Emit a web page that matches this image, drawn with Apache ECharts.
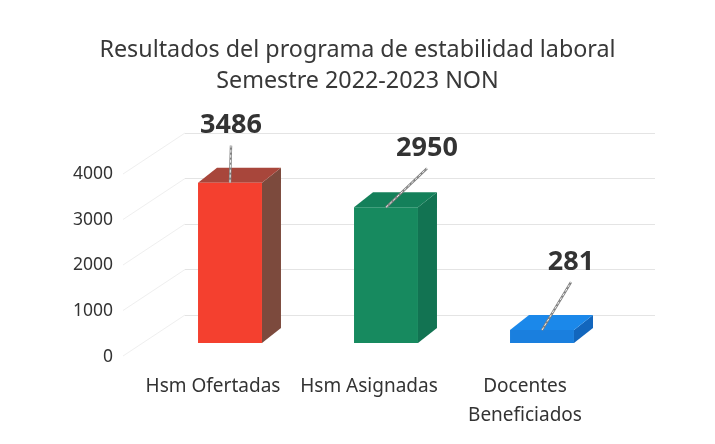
<!DOCTYPE html>
<html>
<head>
<meta charset="utf-8">
<script src="https://cdn.jsdelivr.net/npm/echarts@6/dist/echarts.min.js"></script>
<style>
html,body{margin:0;padding:0;background:#ffffff;}
#chart{width:715px;height:444px;}
</style>
</head>
<body>
<div id="chart"></div>
<script>
// ---- data ----
const titleLines = ['Resultados del programa de estabilidad laboral', 'Semestre 2022-2023 NON'];
const categories = ['Hsm Ofertadas', 'Hsm Asignadas', 'Docentes\nBeneficiados'];
const values = [3486, 2950, 281];
const yTicks = [0, 1000, 2000, 3000, 4000];

// ---- styles ----
const FONT = 'Noto Sans';
const faceColors = [
  { front: '#f4402f', side: '#7c4a3d', top: '#a8463b' },
  { front: '#178a5f', side: '#127352', top: '#14805a' },
  { front: '#1a7fde', side: '#1266bd', top: '#1b88ea' }
];
const labelOffsets = [[1, -57], [41, -59], [29, -68]];
const DEPTH_X = 19, DEPTH_Y = -15;

function renderBar(params, api) {
  const i = api.value(0), v = api.value(1);
  const base = api.coord([i, 0]);
  const top = api.coord([i, v]);
  const bw = api.size([1, 0])[0] * 0.41;
  const x0 = base[0] - bw / 2, x1 = base[0] + bw / 2;
  const c = faceColors[i];
  const off = labelOffsets[i];
  const lx = base[0] + off[0], ly = top[1] + off[1];
  return {
    type: 'group',
    children: [
      { type: 'polygon', shape: { points: [[x1, top[1]], [x1 + DEPTH_X, top[1] + DEPTH_Y], [x1 + DEPTH_X, base[1] + DEPTH_Y], [x1, base[1]]] }, style: { fill: c.side } },
      { type: 'polygon', shape: { points: [[x0, top[1]], [x0 + DEPTH_X, top[1] + DEPTH_Y], [x1 + DEPTH_X, top[1] + DEPTH_Y], [x1, top[1]]] }, style: { fill: c.top } },
      { type: 'rect', shape: { x: x0, y: top[1], width: bw, height: base[1] - top[1] }, style: { fill: c.front } },
      { type: 'line', shape: { x1: base[0], y1: top[1], x2: lx, y2: ly + 20 }, style: { stroke: '#808080', lineWidth: 2.4 } },
      { type: 'line', shape: { x1: base[0], y1: top[1], x2: lx, y2: ly + 20 }, style: { stroke: '#f2f2f2', lineWidth: 1, lineDash: [3, 2] } },
      { type: 'text', style: { x: lx, y: ly, text: String(v), align: 'center', verticalAlign: 'middle', fontFamily: FONT, fontWeight: 'bold', fontSize: 27, fill: '#333333' } }
    ]
  };
}

function renderSideWall(params, api) {
  const p = api.coord([0, api.value(0)]);
  return { type: 'line', shape: { x1: p[0] - 62, y1: p[1] + 41, x2: p[0], y2: p[1] }, style: { stroke: '#efefef', lineWidth: 1 } };
}

const chart = echarts.init(document.getElementById('chart'), null, { renderer: 'canvas' });
chart.setOption({
  backgroundColor: '#ffffff',
  animation: false,
  title: {
    text: titleLines.join('\n'),
    left: 'center', top: 30,
    textStyle: { fontFamily: FONT, fontWeight: 'normal', fontSize: 23.3, color: '#383838', lineHeight: 31 }
  },
  grid: [
    { left: 152, right: 95, top: 159, bottom: 101 },   // bars (front plane)
    { left: 135, right: 112, top: 174, bottom: 87 },   // axis labels (front edge)
    { left: 185, right: 60, top: 133, bottom: 129 }    // back wall
  ],
  xAxis: [
    { type: 'category', gridIndex: 0, data: categories, show: false },
    { type: 'category', gridIndex: 1, data: categories, axisLine: { show: false }, axisTick: { show: false },
      axisLabel: { interval: 0, margin: 15, fontFamily: FONT, fontSize: 19, color: '#333333', lineHeight: 29 } },
    { type: 'value', gridIndex: 2, min: 0, max: 1, show: false }
  ],
  yAxis: [
    { type: 'value', gridIndex: 0, min: 0, max: 4000, interval: 1000, show: false },
    { type: 'value', gridIndex: 1, min: 0, max: 4000, interval: 1000, axisLine: { show: false }, axisTick: { show: false }, splitLine: { show: false },
      axisLabel: { margin: 22, fontFamily: FONT, fontSize: 17.5, color: '#333333', formatter: v => String(v) } },
    { type: 'value', gridIndex: 2, min: 0, max: 4000, interval: 1000, axisLine: { show: false }, axisTick: { show: false }, axisLabel: { show: false },
      splitLine: { show: true, lineStyle: { color: '#e4e4e4', width: 1.2 } } }
  ],
  series: [
    { type: 'custom', xAxisIndex: 2, yAxisIndex: 2, renderItem: renderSideWall, data: yTicks.map(t => [t]), silent: true, z: 1 },
    { type: 'custom', xAxisIndex: 0, yAxisIndex: 0, renderItem: renderBar, data: values.map((v, i) => [i, v]), z: 5 }
  ]
});
</script>
</body>
</html>
